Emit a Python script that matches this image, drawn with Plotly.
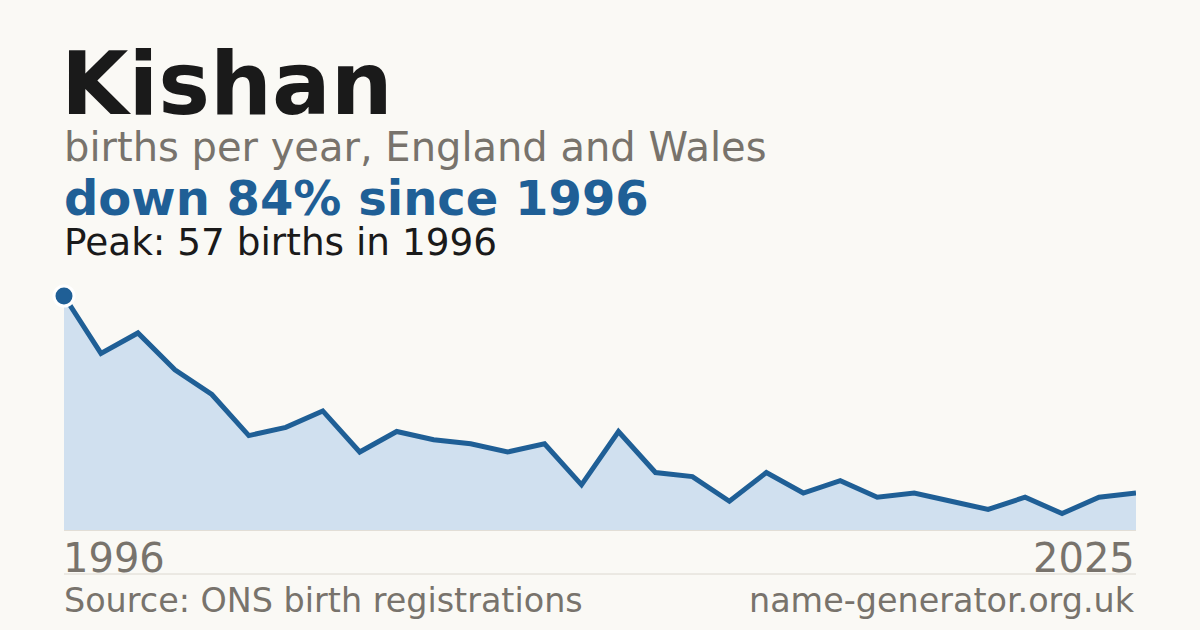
import plotly.graph_objects as go

years = list(range(1996, 2026))
births = [57, 43, 48, 39, 33, 23, 25, 29, 19, 24, 22, 21, 19, 21, 11,
          24, 14, 13, 7, 14, 9, 12, 8, 9, 7, 5, 8, 4, 8, 9]

title_text = "Kishan"
subtitle_text = "births per year, England and Wales"
headline_text = "down 84% since 1996"
peak_text = "Peak: 57 births in 1996"
tick_labels = ["1996", "2025"]
source_text = "Source: ONS birth registrations"
site_text = "name-generator.org.uk"

W, H = 1200, 630
L, R = 64, 1136
TOP, BOT = 296, 530
BG = "#faf9f5"
BLUE = "#1f5f96"
FILL = "#d0e0ef"
GRAY = "#78736c"
DARK = "#1a1a1a"
FONT = "DejaVu Sans"


def py(p):
    return (BOT - p) / (BOT - TOP)


def px(p):
    return (p - L) / (R - L)


fig = go.Figure()
fig.add_trace(go.Scatter(
    x=years, y=births, mode="lines", fill="tozeroy", fillcolor=FILL,
    line=dict(color=BLUE, width=5), hoverinfo="skip", cliponaxis=False))
fig.add_trace(go.Scatter(
    x=[years[0]], y=[births[0]], mode="markers",
    marker=dict(color=BLUE, size=20, line=dict(color="white", width=3)),
    cliponaxis=False, hoverinfo="skip"))

ann = []


def add(text, x, bottom_px, size, color, bold=False, xanchor="left"):
    ann.append(dict(
        text=f"<b>{text}</b>" if bold else text, x=x, y=py(bottom_px),
        xref="paper", yref="paper", xanchor=xanchor, yanchor="bottom",
        showarrow=False, borderpad=0,
        font=dict(family=FONT, size=size, color=color)))


def bottom(baseline, size):
    return baseline + 0.236 * size


add(title_text, px(60), bottom(115, 87), 87, DARK, bold=True)
add(subtitle_text, px(63), bottom(162, 40), 40, GRAY)
add(headline_text, px(63), bottom(216, 48), 48, BLUE, bold=True)
add(peak_text, px(63), bottom(256, 37.4), 37.4, DARK)
add(tick_labels[0], px(62), bottom(573, 40), 40, GRAY)
add(tick_labels[1], 1, bottom(573, 40), 40, GRAY, xanchor="right")
add(source_text, px(63), bottom(613, 33.4), 33.4, GRAY)
add(site_text, 1, bottom(613, 33.4), 33.4, GRAY, xanchor="right")

fig.update_layout(
    width=W, height=H, paper_bgcolor=BG, plot_bgcolor=BG,
    margin=dict(l=L, r=W - R, t=TOP, b=H - BOT),
    showlegend=False, annotations=ann,
    xaxis=dict(range=[1996, 2025], showgrid=False, zeroline=False,
               showticklabels=False, showline=True, linecolor="#e2ded6",
               linewidth=1, fixedrange=True),
    yaxis=dict(range=[0, 57], showgrid=False, zeroline=False,
               showticklabels=False, fixedrange=True),
    shapes=[dict(type="line", xref="paper", yref="paper",
                 x0=0, x1=1, y0=py(574), y1=py(574),
                 line=dict(color="#dcd8d0", width=1))],
)

fig.write_html("out.html", config={"displayModeBar": False},
               post_script="document.body.style.margin='0';"
                           "document.body.style.background='%s';" % BG)
